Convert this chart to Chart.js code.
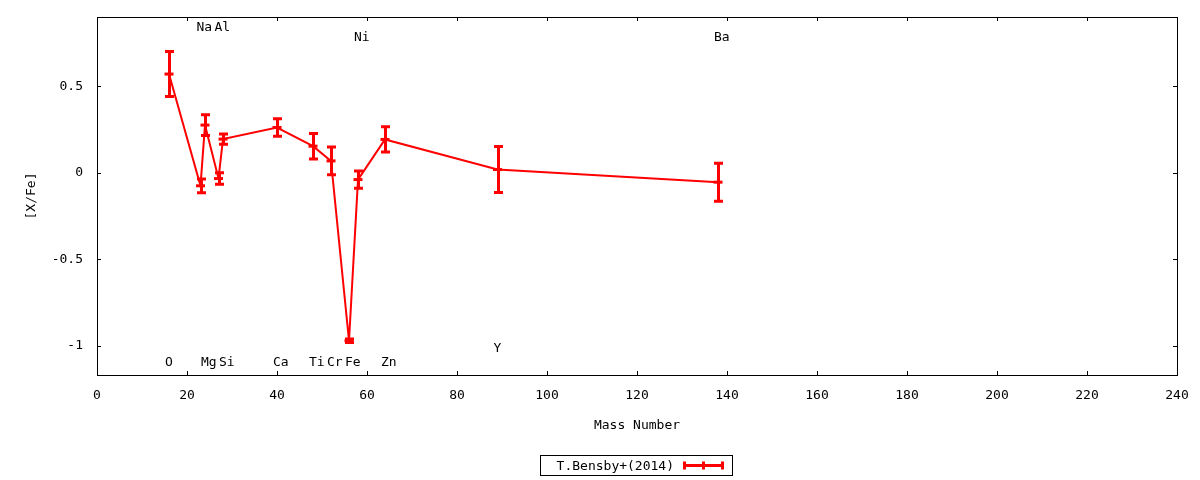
<!DOCTYPE html>
<html>
<head>
<meta charset="utf-8">
<script src="https://cdn.jsdelivr.net/npm/chart.js@4/dist/chart.umd.min.js"></script>
<style>
  html, body { margin: 0; padding: 0; background: #fff; }
  #wrap { width: 1200px; height: 480px; }
</style>
</head>
<body>
<div id="wrap"><canvas id="abund"></canvas></div>
<script>
// elements, mass numbers, [X/Fe] and its error
var elements = ["O", "Na", "Mg", "Al", "Si", "Ca", "Ti", "Cr", "Fe", "Ni", "Zn", "Y", "Ba"]
var massNumber = [16, 23, 24, 27, 28, 40, 48, 52, 56, 58, 64, 89, 138]
var xFe = [0.57, -0.076, 0.275, -0.034, 0.194, 0.261, 0.153, 0.068, -0.972, -0.04, 0.192, 0.018, -0.055]
var xFeErr = [0.13, 0.04, 0.06, 0.033, 0.03, 0.05, 0.074, 0.08, 0.01, 0.05, 0.073, 0.133, 0.11]
// where each element name sits, in [X/Fe] units
var labelLevel = [-1.1, 0.84, -1.1, 0.84, -1.1, -1.1, -1.1, -1.1, -1.1, 0.778, -1.1, -1.02, 0.778]
var yTicks = [-1, -0.5, 0, 0.5]
var seriesName = "T.Bensby+(2014)"

var FONT = "DejaVu Sans Mono"
var RED = "#ff0000"

var points = []
for (var i = 0; i < massNumber.length; i++) {
  points.push({x: massNumber[i], y: xFe[i]})
}

// gnuplot-like frame, inward ticks, error bars, element names and key
var gnuplotLook = {
  id: "gnuplotLook",
  afterDatasetsDraw: function(chart) {
    var ctx = chart.ctx
    var a = chart.chartArea
    var xs = chart.scales.x
    var ys = chart.scales.y
    ctx.save()

    // error bars
    ctx.strokeStyle = RED
    ctx.lineWidth = 3
    for (var i = 0; i < massNumber.length; i++) {
      var px = Math.round(xs.getPixelForValue(massNumber[i])) + 0.5
      var top = ys.getPixelForValue(xFe[i] + xFeErr[i])
      var bot = ys.getPixelForValue(xFe[i] - xFeErr[i])
      ctx.beginPath()
      ctx.moveTo(px, top); ctx.lineTo(px, bot)
      ctx.moveTo(px - 4.5, top); ctx.lineTo(px + 4.5, top)
      ctx.moveTo(px - 4.5, bot); ctx.lineTo(px + 4.5, bot)
      ctx.stroke()
    }

    // element names
    ctx.fillStyle = "#000"
    ctx.font = "13px '" + FONT + "'"
    ctx.textAlign = "left"
    ctx.textBaseline = "middle"
    for (var j = 0; j < elements.length; j++) {
      ctx.fillText(elements[j], xs.getPixelForValue(massNumber[j]) - 4, ys.getPixelForValue(labelLevel[j]))
    }

    // border
    ctx.strokeStyle = "#000"
    ctx.lineWidth = 1
    ctx.strokeRect(Math.round(a.left) + 0.5, Math.round(a.top) + 0.5,
      Math.round(a.right - a.left), Math.round(a.bottom - a.top))

    // inward ticks on all four sides
    ctx.beginPath()
    xs.ticks.forEach(function(t) {
      var x = Math.round(xs.getPixelForValue(t.value)) + 0.5
      ctx.moveTo(x, a.bottom); ctx.lineTo(x, a.bottom - 4)
      ctx.moveTo(x, a.top); ctx.lineTo(x, a.top + 4)
    })
    ys.ticks.forEach(function(t) {
      var y = Math.round(ys.getPixelForValue(t.value)) + 0.5
      ctx.moveTo(a.left, y); ctx.lineTo(a.left + 4, y)
      ctx.moveTo(a.right, y); ctx.lineTo(a.right - 4, y)
    })
    ctx.stroke()

    // key box
    var bx = 540.5, by = 455.5, bw = 192, bh = 20
    ctx.strokeRect(bx, by, bw, bh)
    ctx.textAlign = "right"
    ctx.fillText(seriesName, 674, by + bh / 2 + 1)
    var ly = by + bh / 2
    ctx.strokeStyle = RED
    ctx.lineWidth = 3
    ctx.beginPath()
    ctx.moveTo(683, ly); ctx.lineTo(724, ly)
    ctx.moveTo(684.5, ly - 4); ctx.lineTo(684.5, ly + 4)
    ctx.moveTo(722.5, ly - 4); ctx.lineTo(722.5, ly + 4)
    ctx.moveTo(703.5, ly - 4); ctx.lineTo(703.5, ly + 4)
    ctx.stroke()

    ctx.restore()
  }
}

var ctxA = document.getElementById("abund").getContext("2d")
var abundChart = new Chart(ctxA, {
  type: "line",
  data: {
    datasets: [{
      label: seriesName,
      data: points,
      borderColor: RED,
      borderWidth: 2,
      pointStyle: "line",
      pointRadius: 4.5,
      pointBorderWidth: 3,
      pointBorderColor: RED,
      pointBackgroundColor: RED,
      fill: false,
      tension: 0
    }]
  },
  options: {
    responsive: true,
    maintainAspectRatio: false,
    animation: false,
    devicePixelRatio: 1,
    layout: { padding: { left: 0, right: 23, top: 17, bottom: 0 } },
    plugins: {
      legend: { display: false },
      tooltip: { enabled: false }
    },
    scales: {
      x: {
        type: "linear",
        min: 0,
        max: 240,
        grid: { display: false, drawTicks: false },
        border: { display: false },
        ticks: { stepSize: 20, color: "#000", padding: 13, maxRotation: 0,
                 font: { family: FONT, size: 13 } },
        title: { display: true, text: "Mass Number", color: "#000",
                 font: { family: FONT, size: 13 }, padding: { top: 0, bottom: 47 } },
        afterFit: function(s) {
          s.height = 105
          s.paddingLeft = 0
          s.paddingRight = 0
        }
      },
      y: {
        type: "linear",
        min: -1.17,
        max: 0.9,
        grid: { display: false, drawTicks: false },
        border: { display: false },
        afterBuildTicks: function(s) { s.ticks = yTicks.map(function(v) { return {value: v} }) },
        ticks: { color: "#000", padding: 14,
                 font: { family: FONT, size: 13 },
                 callback: function(v) { return String(v) } },
        title: { display: true, text: "[X/Fe]", color: "#000",
                 font: { family: FONT, size: 13 }, padding: { top: 24, bottom: 0 } },
        afterFit: function(s) {
          s.width = 97
          s.paddingTop = 0
          s.paddingBottom = 0
        }
      }
    }
  },
  plugins: [gnuplotLook]
})
</script>
</body>
</html>
